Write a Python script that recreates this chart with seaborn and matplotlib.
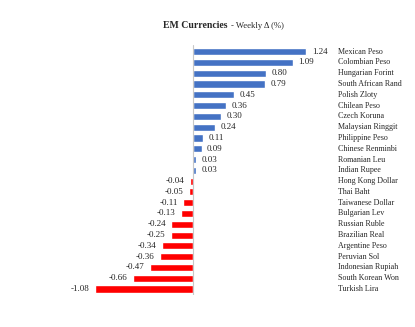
import matplotlib
matplotlib.use("Agg")
import matplotlib.pyplot as plt
import seaborn as sns
import pandas as pd

currencies = ["Mexican Peso", "Colombian Peso", "Hungarian Forint", "South African Rand",
              "Polish Zloty", "Chilean Peso", "Czech Koruna", "Malaysian Ringgit",
              "Philippine Peso", "Chinese Renminbi", "Romanian Leu", "Indian Rupee",
              "Hong Kong Dollar", "Thai Baht", "Taiwanese Dollar", "Bulgarian Lev",
              "Russian Ruble", "Brazilian Real", "Argentine Peso", "Peruvian Sol",
              "Indonesian Rupiah", "South Korean Won", "Turkish Lira"]
changes = [1.24, 1.09, 0.80, 0.79, 0.45, 0.36, 0.30, 0.24, 0.11, 0.09, 0.03, 0.03,
           -0.04, -0.05, -0.11, -0.13, -0.24, -0.25, -0.34, -0.36, -0.47, -0.66, -1.08]

sns.set_style("white")
plt.rcParams['font.family'] = ['Liberation Serif', 'DejaVu Serif']

df = pd.DataFrame({"currency": currencies, "change": changes})
df["sign"] = ["pos" if v >= 0 else "neg" for v in changes]

fig = plt.figure(figsize=(4.15, 3.27), dpi=100)
n = len(currencies)
first_px, last_px = 51.7, 289.0
unit = (last_px - first_px) / (n - 1)
top_pad, bot_pad = 0.62, 0.56
top_px = first_px - top_pad * unit
bot_px = last_px + bot_pad * unit
zero_px, scale = 193.3, 91.2
xmin, xmax = -1.2, 1.3
left_px, right_px = zero_px + xmin * scale, zero_px + xmax * scale
ax = fig.add_axes([left_px / 415, (327 - bot_px) / 327,
                   (right_px - left_px) / 415, (bot_px - top_px) / 327])

sns.barplot(data=df, y="currency", x="change", hue="sign", orient="h",
            palette={"pos": "#4472C4", "neg": "#FF0000"}, width=0.66,
            saturation=1, legend=False, ax=ax, dodge=False)
ax.set_xlim(xmin, xmax)
ax.set_ylim(n - 1 + bot_pad, -top_pad)
ax.axvline(0, color="#C8C8C8", lw=0.8)
for s in ax.spines.values():
    s.set_visible(False)
ax.set_xticks([])
ax.set_yticks([])
ax.set_xlabel("")
ax.set_ylabel("")

for i, (c, v) in enumerate(zip(currencies, changes)):
    if v >= 0:
        ax.annotate(f"{v:.2f}", (v, i), xytext=(4, 0), textcoords="offset points",
                    ha="left", va="center", fontsize=6.5, annotation_clip=False)
    else:
        ax.annotate(f"{v:.2f}", (v, i), xytext=(-4, 0), textcoords="offset points",
                    ha="right", va="center", fontsize=6.5, annotation_clip=False)
    ax.text((337.5 - zero_px) / scale, i, c, ha="left", va="center",
            fontsize=5.8, clip_on=False)

fig.text(163 / 415, 1 - 26 / 327, "EM Currencies", fontsize=7.0, fontweight="bold",
         ha="left", va="center")
fig.text(231 / 415, 1 - 26 / 327, "- Weekly Δ (%)", fontsize=6.2, ha="left", va="center")

fig.savefig("out.png", dpi=100)
